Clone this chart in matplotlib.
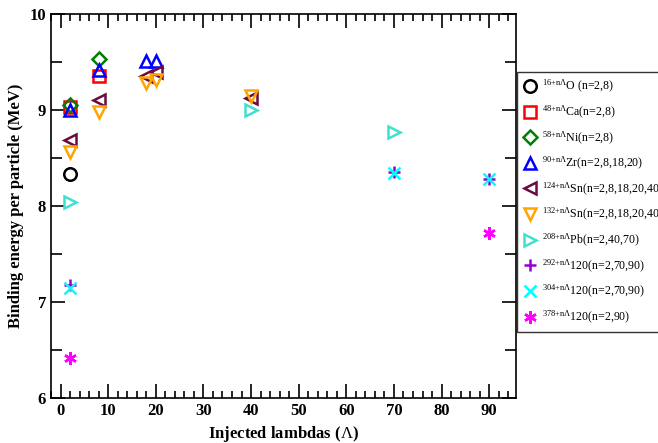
import numpy as np
import matplotlib.pyplot as plt
from matplotlib.ticker import MultipleLocator

plt.rcParams['font.family'] = ['Liberation Serif', 'DejaVu Serif']
plt.rcParams['mathtext.fontset'] = 'custom'
plt.rcParams['mathtext.rm'] = 'Liberation Serif'
plt.rcParams['mathtext.it'] = 'Liberation Serif'

# data: (lambda count, binding energy per particle)
x_O = [2]
y_O = [8.33]
x_Ca = [2, 8]
y_Ca = [9.03, 9.36]
x_Ni = [2, 8]
y_Ni = [9.05, 9.53]
x_Zr = [2, 8, 18, 20]
y_Zr = [9.00, 9.42, 9.51, 9.51]
x_Sn124 = [2, 8, 18, 20, 40]
y_Sn124 = [8.69, 9.10, 9.36, 9.40, 9.13]
x_Sn132 = [2, 8, 18, 20, 40]
y_Sn132 = [8.56, 8.98, 9.28, 9.31, 9.15]
x_Pb = [2, 40, 70]
y_Pb = [8.04, 9.00, 8.77]
x_292 = [2, 70, 90]
y_292 = [7.18, 8.35, 8.28]
x_304 = [2, 70, 90]
y_304 = [7.15, 8.34, 8.28]
x_378 = [2, 90]
y_378 = [6.41, 7.72]

def lab(a, rest):
    return r'$^{\mathrm{' + a + r'{+}n\Lambda}}$' + rest

series = [
    (x_O, y_O, 'o', 'black', lab('16', 'O (n=2,8)')),
    (x_Ca, y_Ca, 's', 'red', lab('48', 'Ca(n=2,8)')),
    (x_Ni, y_Ni, 'D', 'green', lab('58', 'Ni(n=2,8)')),
    (x_Zr, y_Zr, '^', 'blue', lab('90', 'Zr(n=2,8,18,20)')),
    (x_Sn124, y_Sn124, '<', '#6b0a3e', lab('124', 'Sn(n=2,8,18,20,40)')),
    (x_Sn132, y_Sn132, 'v', 'orange', lab('132', 'Sn(n=2,8,18,20,40)')),
    (x_Pb, y_Pb, '>', 'turquoise', lab('208', 'Pb(n=2,40,70)')),
    (x_292, y_292, '+', 'darkviolet', lab('292', '120(n=2,70,90)')),
    (x_304, y_304, 'x', 'cyan', lab('304', '120(n=2,70,90)')),
    (x_378, y_378, (6, 2, 0), 'magenta', lab('378', '120(n=2,90)')),
]

fig = plt.figure(figsize=(6.58, 4.43), dpi=100)
ax = fig.add_axes([0.0775, 0.102, 0.7065, 0.866])

for x, y, m, c, label in series:
    ms = 9
    if m == 'D':
        ms = 7
    ax.plot(x, y, linestyle='none', marker=m, markersize=ms, markerfacecolor='none',
            markeredgecolor=c, markeredgewidth=1.8, label=label)

ax.set_xlim(-2, 95.6)
ax.set_ylim(6, 10)
ax.xaxis.set_major_locator(MultipleLocator(10))
ax.xaxis.set_minor_locator(MultipleLocator(2))
ax.yaxis.set_major_locator(MultipleLocator(1))
ax.yaxis.set_minor_locator(MultipleLocator(0.5))
ax.tick_params(which='both', direction='in', top=True, right=True, width=1.2)
ax.tick_params(which='major', length=10, labelsize=12)
ax.tick_params(which='minor', length=5)
ax.tick_params(axis='y', which='minor', length=8)
for lbl in ax.get_xticklabels() + ax.get_yticklabels():
    lbl.set_fontweight('bold')
for s in ax.spines.values():
    s.set_linewidth(1.2)

ax.set_xlabel(r'Injected lambdas ($\Lambda$)', fontsize=12, fontweight='bold')
ax.set_ylabel('Binding energy per particle (MeV)', fontsize=12, fontweight='bold')

leg = fig.legend(loc='upper left', bbox_to_anchor=(0.786, 0.838), fontsize=8.6,
                 frameon=True, fancybox=False, edgecolor='black', handletextpad=0.5,
                 borderpad=0.55, borderaxespad=0, labelspacing=0.72, handlelength=1.0)
leg.get_frame().set_linewidth(1.0)

fig.savefig('out.png', dpi=100)
